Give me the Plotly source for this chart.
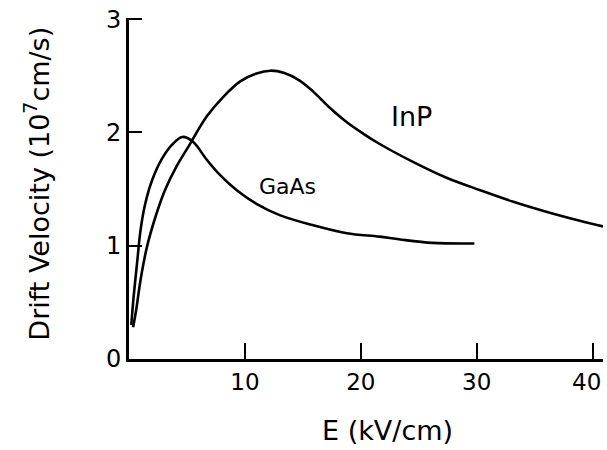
import plotly.graph_objects as go

# GaAs drift velocity (1e7 cm/s) vs field E (kV/cm)
gaas_E = [0.2, 0.4, 0.7, 1.0, 1.4, 2.0, 2.8, 3.7, 4.6, 5.5, 6.7, 7.8, 9.3, 11.0, 13.0, 15.9, 18.8, 21.6, 23.4, 26.2, 29.8]
gaas_v = [0.3, 0.55, 0.85, 1.14, 1.37, 1.58, 1.76, 1.89, 1.96, 1.92, 1.76, 1.63, 1.49, 1.37, 1.27, 1.18, 1.11, 1.08, 1.055, 1.025, 1.02]

# InP drift velocity (1e7 cm/s) vs field E (kV/cm)
inp_E = [0.35, 0.6, 1.0, 1.55, 2.3, 3.1, 4.1, 5.1, 6.7, 8.1, 9.6, 11.0, 12.2, 13.4, 14.7, 15.9, 17.3, 18.8, 20.2, 21.6, 24.5, 27.4, 30.3, 33.1, 36.0, 38.9, 40.9]
inp_v = [0.28, 0.42, 0.70, 0.99, 1.26, 1.49, 1.70, 1.87, 2.14, 2.31, 2.45, 2.52, 2.545, 2.525, 2.46, 2.36, 2.22, 2.09, 1.99, 1.90, 1.74, 1.60, 1.49, 1.39, 1.30, 1.22, 1.17]

x_ticks = [10, 20, 30, 40]
x_tick_labels = ["10", "20", "30", ""]
last_x_tick_label = "40"
y_ticks = [0, 1, 2, 3]

FONT = "DejaVu Sans"

fig = go.Figure()
fig.add_trace(go.Scatter(x=gaas_E, y=gaas_v, mode="lines", name="GaAs",
                         line=dict(color="black", width=2.6, shape="spline", smoothing=1.0)))
fig.add_trace(go.Scatter(x=inp_E, y=inp_v, mode="lines", name="InP",
                         line=dict(color="black", width=2.6, shape="spline", smoothing=1.0)))

fig.add_annotation(x=24.4, y=2.14, text="InP", showarrow=False,
                   font=dict(family=FONT, size=27, color="black"))
fig.add_annotation(x=13.7, y=1.52, text="GaAs", showarrow=False,
                   font=dict(family=FONT, size=22, color="black"))

# last x tick label, nudged left so it stays inside the picture as in the reference
fig.add_annotation(x=x_ticks[-1], xref="x", yref="paper", y=-0.0674,
                   text=last_x_tick_label, showarrow=False, xshift=-6,
                   yanchor="middle", xanchor="center",
                   font=dict(family=FONT, size=23, color="black"))

fig.add_annotation(xref="paper", yref="paper", x=0.546, y=-0.21,
                   text="E (kV/cm)", showarrow=False, yanchor="middle",
                   font=dict(family=FONT, size=27, color="black"))
fig.add_annotation(xref="paper", yref="paper", x=-0.195, y=0.513,
                   text="Drift Velocity (10<sup>7</sup>cm/s)", showarrow=False,
                   textangle=-90, xanchor="center", yanchor="middle",
                   font=dict(family=FONT, size=27, color="black"))

fig.update_layout(
    width=607, height=450,
    margin=dict(l=129, r=4, t=18, b=91, autoexpand=False),
    paper_bgcolor="white", plot_bgcolor="white",
    showlegend=False,
    xaxis=dict(range=[0, 40.9], tickvals=x_ticks, ticktext=x_tick_labels,
               ticks="inside", ticklen=16,
               tickwidth=2, tickcolor="black", showline=True, linecolor="black",
               linewidth=3, showgrid=False, zeroline=False,
               tickfont=dict(family=FONT, size=23, color="black")),
    yaxis=dict(range=[0, 3.01], tickvals=y_ticks, ticks="inside", ticklen=13,
               tickwidth=2, tickcolor="black", showline=True, linecolor="black",
               linewidth=3, showgrid=False, zeroline=False,
               tickfont=dict(family=FONT, size=24, color="black")),
)

fig.write_html("out.html")
